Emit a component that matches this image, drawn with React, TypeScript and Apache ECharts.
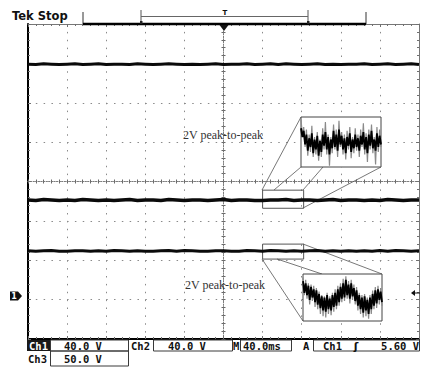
import { useEffect, useRef } from "react";
import * as echarts from "echarts";

// Screen geometry of the scope graticule (pixels)
const L = 28;
const T = 24;
const W = 391;
const H = 315;

// Graticule extent in divisions
const divX = 10;
const divY = 4;

// Acquired traces, in divisions from centre screen
const ch1Trace = [
  2.98, 2.97, 2.99, 2.98, 2.97, 2.98, 2.99, 2.97, 2.98, 2.99,
  2.97, 2.98, 2.98, 2.97, 2.99, 2.98, 2.97, 2.98, 2.99, 2.98,
  2.97, 2.98, 2.97, 2.98, 2.99, 2.97, 2.98, 2.98, 2.99, 2.97,
  2.98, 2.99, 2.97, 2.99, 2.98, 2.97, 2.98, 2.99, 2.97, 2.98,
  2.97, 2.98, 2.98, 2.99, 2.97, 2.98, 2.99, 2.97, 2.98, 2.99, 2.97,
];
const ch2Trace = [
  -0.47, -0.48, -0.46, -0.47, -0.48, -0.47, -0.48, -0.46, -0.47, -0.48,
  -0.47, -0.48, -0.47, -0.46, -0.48, -0.47, -0.47, -0.48, -0.46, -0.47,
  -0.48, -0.47, -0.47, -0.48, -0.47, -0.46, -0.48, -0.47, -0.47, -0.48,
  -0.48, -0.47, -0.47, -0.46, -0.48, -0.47, -0.47, -0.48, -0.47, -0.46,
  -0.48, -0.47, -0.47, -0.48, -0.47, -0.48, -0.46, -0.47, -0.48, -0.47, -0.47,
];
const ch3Trace = [
  -1.76, -1.77, -1.76, -1.75, -1.77, -1.77, -1.76, -1.76, -1.77, -1.76,
  -1.77, -1.75, -1.76, -1.77, -1.76, -1.77, -1.77, -1.76, -1.75, -1.77,
  -1.75, -1.76, -1.77, -1.77, -1.76, -1.76, -1.77, -1.77, -1.75, -1.76,
  -1.77, -1.75, -1.76, -1.77, -1.76, -1.77, -1.76, -1.75, -1.77, -1.76,
  -1.77, -1.76, -1.77, -1.76, -1.77, -1.75, -1.77, -1.75, -1.76, -1.77, -1.76,
];

// Magnified ripple (normalised to the zoom window height)
const zoomUpperBlack = [
  0.55, 0.2, 0.45, -0.1, 0.3, -0.35, 0.15, -0.2, 0.35, -0.45,
  0.1, -0.3, 0.25, -0.55, 0.05, -0.4, 0.3, -0.15, 0.4, -0.3,
  0.2, -0.5, 0.1, -0.25, 0.45, -0.2, 0.3, -0.35, 0.5, -0.1,
  0.25, -0.3, 0.15, -0.45, 0.2, -0.15, 0.35, -0.4, 0.1, -0.25,
  0.3, -0.2, 0.15, -0.35, 0.25, -0.1, 0.4, -0.3, 0.2, -0.45,
  0.3, -0.15, 0.45, -0.25, 0.1, -0.35, 0.35, -0.2, 0.25, -0.1,
];
const zoomUpperGray = [
  0.9, 0.3, 0.6, -0.2, 0.5, -0.55, 0.3, -0.4, 0.65, -0.6,
  0.2, -0.5, 0.4, -0.75, 0.1, -0.6, 0.55, -0.3, 0.8, -0.5,
  0.3, -0.95, 0.2, -0.45, 0.7, -0.3, 0.5, -0.6, 0.85, -0.2,
  0.4, -0.5, 0.3, -0.7, 0.45, -0.3, 0.6, -0.65, 0.2, -0.45,
  0.55, -0.35, 0.3, -0.6, 0.5, -0.2, 0.75, -0.5, 0.35, -0.8,
  0.5, -0.3, 0.7, -0.45, 0.2, -0.9, 0.6, -0.4, 0.5, -0.2,
];
const zoomLowerBlack = [
  0.7, 0.2, 0.6, 0.1, 0.5, -0.1, 0.45, 0.0, 0.35, -0.2,
  0.3, -0.3, 0.15, -0.45, 0.05, -0.55, 0.0, -0.6, 0.1, -0.5,
  -0.05, -0.55, 0.1, -0.4, 0.2, -0.35, 0.35, -0.2, 0.45, -0.05,
  0.6, 0.0, 0.75, 0.1, 0.55, -0.05, 0.6, 0.05, 0.4, -0.15,
  0.3, -0.35, 0.1, -0.5, 0.0, -0.65, 0.05, -0.55, -0.1, -0.7,
  0.0, -0.5, 0.15, -0.35, 0.3, -0.25, 0.35, -0.1, 0.25, -0.2,
];
const zoomLowerGray = [
  0.85, 0.1, 0.75, -0.05, 0.6, -0.3, 0.55, -0.15, 0.5, -0.4,
  0.4, -0.5, 0.25, -0.7, 0.1, -0.8, 0.05, -0.85, 0.2, -0.7,
  0.05, -0.75, 0.2, -0.6, 0.35, -0.5, 0.5, -0.35, 0.6, -0.2,
  0.8, -0.15, 0.9, -0.05, 0.7, -0.25, 0.75, -0.1, 0.55, -0.3,
  0.45, -0.55, 0.2, -0.7, 0.1, -0.85, 0.15, -0.8, 0.0, -0.9,
  0.1, -0.7, 0.3, -0.5, 0.45, -0.45, 0.5, -0.3, 0.4, -0.35,
];

// Selected spans on the traces (divisions)
const zoomUpperSpan = { x: [6.0, 7.05], y: [-0.22, -0.68] };
const zoomLowerSpan = { x: [6.0, 7.05], y: [-1.59, -1.97] };

// Readout texts
const headerText = "Tek Stop";
const annotation = "2V peak-to-peak";
const ch1Scale = "40.0 V";
const ch2Scale = "40.0 V";
const ch3Scale = "50.0 V";
const timebase = "40.0ms";
const trigSource = "Ch1";
const trigLevel = "5.60 V";

const MONO = '"DejaVu Sans Mono", monospace';

function pairs(vals: number[], span: number) {
  return vals.map((v, i) => [(i * span) / (vals.length - 1), v]);
}

function buildOption(): any {
  const dotV = [1.5, H / (2 * divY) / 5 - 1.5];
  const dotH = [1.5, W / divX / 5 - 1.5];
  const tickStyle = { color: "#707070", width: 1 };
  const borderAxis = (extra: any) => ({
    type: "value",
    gridIndex: 0,
    axisLabel: { show: false },
    axisTick: { show: true, inside: true, length: 3, lineStyle: tickStyle },
    minorTick: { show: true, splitNumber: 5, length: 2, lineStyle: tickStyle },
    ...extra,
  });
  const centreLine = { onZero: false, lineStyle: { color: "#7c7c7c", width: 1, type: [1, 1.6] } };
  const centreTick = { show: true, inside: true, length: 2, lineStyle: { color: "#6a6a6a", width: 1 } };
  const hidden = (gridIndex: number, min: number, max: number) => ({
    type: "value", gridIndex, min, max, show: false,
  });
  const idx = (vals: number[]) => vals.map((_, i) => String(i));

  const traceSeries = (data: number[], width: number, extra: any = {}) => ({
    type: "line",
    xAxisIndex: 0,
    yAxisIndex: 0,
    data: pairs(data, divX),
    symbol: "none",
    silent: true,
    z: 3,
    lineStyle: { color: "#0a0a0a", width, join: "round" },
    ...extra,
  });
  const spanArea = (span: { x: number[]; y: number[] }) => ({
    silent: true,
    itemStyle: { color: "rgba(0,0,0,0)", borderColor: "#555", borderWidth: 1 },
    data: [[{ xAxis: span.x[0], yAxis: span.y[0] }, { xAxis: span.x[1], yAxis: span.y[1] }]],
  });
  const zoomSeries = (data: number[], axis: number, color: string, width: number, z: number) => ({
    type: "line",
    xAxisIndex: axis,
    yAxisIndex: axis,
    data,
    symbol: "none",
    silent: true,
    z,
    lineStyle: { color, width },
  });

  const line = (x1: number, y1: number, x2: number, y2: number, stroke = "#555", lineWidth = 0.8) => ({
    type: "line",
    silent: true,
    z: 3,
    shape: { x1, y1, x2, y2 },
    style: { stroke, lineWidth },
  });
  const text = (t: string, x: number, y: number, font: string, fill = "#111", align = "left") => ({
    type: "text",
    silent: true,
    z: 10,
    x,
    y,
    style: { text: t, font, fill, textAlign: align, textVerticalAlign: "middle" },
  });
  const box = (x: number, y: number, w: number, h: number) => ({
    type: "rect",
    silent: true,
    z: 9,
    shape: { x, y, width: w, height: h },
    style: { fill: "rgba(0,0,0,0)", stroke: "#3a3a3a", lineWidth: 1 },
  });
  const statusFont = `bold 10.5px ${MONO}`;

  return {
    animation: false,
    backgroundColor: "#ffffff",
    grid: [
      { left: L, top: T, width: W, height: H, show: false },
      { left: L, top: T, width: W, height: H / 2, show: false },
      { left: L, top: T + H / 2, width: W, height: H / 2, show: false },
      { left: L, top: T, width: W / 2, height: H, show: false },
      { left: L + W / 2, top: T, width: W / 2, height: H, show: false },
      { left: 301, top: 117, width: 80, height: 50, show: true, z: 4, backgroundColor: "#fff", borderColor: "#444", borderWidth: 1 },
      { left: 303, top: 274, width: 79, height: 47, show: true, z: 4, backgroundColor: "#fff", borderColor: "#444", borderWidth: 1 },
    ],
    xAxis: [
      borderAxis({
        position: "bottom", min: 0, max: divX, interval: 1,
        axisLine: { onZero: false, lineStyle: { color: "#000", width: 2 } },
        splitLine: { show: true, lineStyle: { color: "#8a8a8a", width: 1, type: dotV } },
      }),
      borderAxis({
        position: "top", min: 0, max: divX, interval: 1,
        axisLine: { onZero: false, lineStyle: { color: "#777", width: 1 } },
        splitLine: { show: false },
      }),
      { type: "value", gridIndex: 1, position: "bottom", min: 0, max: divX, interval: 0.2, axisLine: centreLine, axisTick: centreTick, axisLabel: { show: false }, splitLine: { show: false } },
      { type: "value", gridIndex: 2, position: "top", min: 0, max: divX, interval: 0.2, axisLine: centreLine, axisTick: centreTick, axisLabel: { show: false }, splitLine: { show: false } },
      hidden(3, 0, divX / 2),
      hidden(4, 0, divX / 2),
      { type: "category", gridIndex: 5, data: idx(zoomUpperBlack), boundaryGap: false, show: false },
      { type: "category", gridIndex: 6, data: idx(zoomLowerBlack), boundaryGap: false, show: false },
    ],
    yAxis: [
      borderAxis({
        position: "left", min: -divY, max: divY, interval: 1,
        axisLine: { onZero: false, lineStyle: { color: "#000", width: 2 } },
        splitLine: { show: true, lineStyle: { color: "#8a8a8a", width: 1, type: dotH } },
      }),
      borderAxis({
        position: "right", min: -divY, max: divY, interval: 1,
        axisLine: { onZero: false, lineStyle: { color: "#777", width: 1 } },
        splitLine: { show: false },
      }),
      hidden(1, 0, divY),
      hidden(2, -divY, 0),
      { type: "value", gridIndex: 3, position: "right", min: -divY, max: divY, interval: 0.2, axisLine: centreLine, axisTick: centreTick, axisLabel: { show: false }, splitLine: { show: false } },
      { type: "value", gridIndex: 4, position: "left", min: -divY, max: divY, interval: 0.2, axisLine: centreLine, axisTick: centreTick, axisLabel: { show: false }, splitLine: { show: false } },
      hidden(5, -1, 1),
      hidden(6, -1, 1),
    ],
    series: [
      traceSeries(ch1Trace, 3),
      traceSeries(ch2Trace, 3.5, { markArea: spanArea(zoomUpperSpan) }),
      traceSeries(ch3Trace, 3, { markArea: spanArea(zoomLowerSpan) }),
      zoomSeries(zoomUpperGray, 6, "#8a8a8a", 1.2, 5),
      zoomSeries(zoomUpperBlack, 6, "#000", 1.8, 6),
      zoomSeries(zoomLowerGray, 7, "#8a8a8a", 1.2, 5),
      zoomSeries(zoomLowerBlack, 7, "#000", 1.8, 6),
    ],
    graphic: [
      // header
      text(headerText, 12, 16, 'bold 11.5px "DejaVu Sans"'),
      line(83, 12, 83, 24, "#333", 1),
      line(366, 12, 366, 24, "#333", 1),
      line(83, 24, 366, 24, "#000", 2.5),
      line(141, 10, 141, 24, "#555", 1),
      line(308, 10, 308, 24, "#555", 1),
      line(141, 16.5, 308, 16.5, "#666", 1),
      { type: "rect", silent: true, z: 9, shape: { x: 140, y: 21, width: 2.5, height: 3 }, style: { fill: "#222" } },
      { type: "rect", silent: true, z: 9, shape: { x: 307, y: 21, width: 2.5, height: 3 }, style: { fill: "#222" } },
      text("T", 225, 12.5, "bold 7px \"DejaVu Sans\"", "#111", "center"),
      { type: "polygon", silent: true, z: 9, shape: { points: [[219.5, 25], [228.5, 25], [224, 31]] }, style: { fill: "#111" } },
      // channel 1 ground marker and trigger level marker
      { type: "polygon", silent: true, z: 9, shape: { points: [[10, 291.5], [18, 291.5], [22, 296], [18, 300.5], [10, 300.5]] }, style: { fill: "#111" } },
      text("1", 14, 296.5, "bold 8px \"DejaVu Sans\"", "#fff", "center"),
      { type: "polygon", silent: true, z: 9, shape: { points: [[411, 293], [415, 290], [415, 296]] }, style: { fill: "#111" } },
      line(414, 293, 420, 293, "#111", 1),
      // zoom connectors
      line(262, 190, 301, 117),
      line(274, 190, 301, 167),
      line(303, 190, 323, 167),
      line(303, 208, 381, 167),
      line(262, 259, 303, 321),
      line(277, 259, 322, 274),
      line(303, 244, 382, 274),
      // annotations
      text(annotation, 183, 135, '12px "Liberation Serif"', "#333"),
      text(annotation, 185, 285, '12px "Liberation Serif"', "#333"),
      // status readout
      { type: "rect", silent: true, z: 8, shape: { x: 27, y: 340, width: 23, height: 11 }, style: { fill: "#1a1a1a" } },
      text("Ch1", 38.5, 346, statusFont, "#fff", "center"),
      box(50.5, 340, 78, 11),
      text(ch1Scale, 64, 346, statusFont),
      text("Ch2", 131, 346, statusFont),
      box(153.5, 340, 79, 11),
      text(ch2Scale, 168, 346, statusFont),
      text("M", 233, 346, statusFont),
      box(240.5, 340, 51, 11),
      text(timebase, 243, 346, statusFont),
      text("A", 303, 346, statusFont),
      box(313.5, 340, 106, 11),
      text(trigSource, 323, 346, statusFont),
      text("ʃ", 356, 346, `bold 11px "DejaVu Sans"`, "#111", "center"),
      text(trigLevel, 419, 346, statusFont, "#111", "right"),
      text("Ch3", 28, 358.5, statusFont),
      box(50.5, 351, 78, 15),
      text(ch3Scale, 64, 358.5, statusFont),
    ],
  };
}

export default function App() {
  const ref = useRef<HTMLDivElement>(null);
  useEffect(() => {
    const chart = echarts.init(ref.current!, null, { renderer: "svg" });
    chart.setOption(buildOption());
    return () => chart.dispose();
  }, []);
  return (
    <div
      ref={ref}
      style={{ position: "fixed", left: 0, top: 0, width: 422, height: 368, background: "#fff" }}
    />
  );
}
